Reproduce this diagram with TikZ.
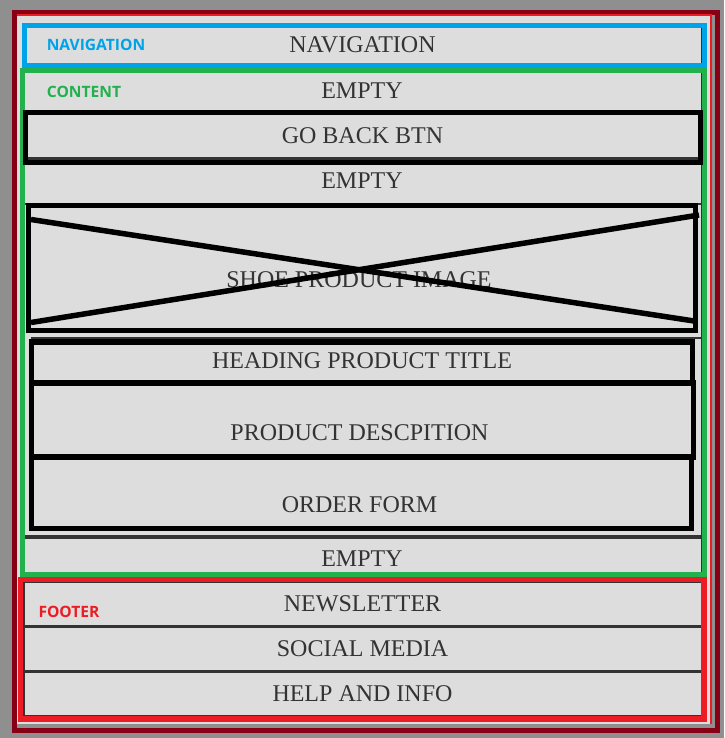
\documentclass[tikz,border=0pt]{standalone}
\usepackage{fontspec}
\setmainfont{Liberation Serif}
\newfontfamily\labfont{Open Sans}
\definecolor{bggray}{HTML}{8F8F8F}
\definecolor{darkred}{HTML}{880015}
\definecolor{myred}{HTML}{ED1C24}
\definecolor{myblue}{HTML}{00A2E8}
\definecolor{mygreen}{HTML}{22B14C}
\definecolor{pagefill}{HTML}{DDDDDD}
\definecolor{rowline}{HTML}{333333}
\definecolor{txtcol}{HTML}{333333}
\begin{document}
\begin{tikzpicture}[x=1pt,y=-1pt,
  box/.style={rectangle, anchor=north west, inner sep=0pt, outer sep=0pt},
  rowbox/.style={box, draw=rowline, line width=1.5pt, fill=pagefill},
  framebox/.style={box, draw=#1, line width=5pt},
  blackbox/.style={box, draw=black, line width=5pt},
  txt/.style={text=txtcol, font=\fontsize{24}{24}\selectfont, inner sep=0pt, anchor=center},
  lbl/.style={text=#1, font=\labfont\bfseries\fontsize{15.6}{15.6}\selectfont, inner sep=0pt, anchor=center},
  sepline/.style={draw=rowline, line width=3.3pt},
  crossline/.style={draw=black, line width=5.5pt}]
\useasboundingbox (0,0) rectangle (724,738);
\fill[bggray] (0,0) rectangle (724,738);
% outer frame and page
\node[box, draw=darkred, line width=5pt, minimum width=703pt, minimum height=718pt] (outer) at (14.5,12.5) {};
\node[box, fill=pagefill, minimum width=694pt, minimum height=709pt] (page) at (17,15) {};
\draw[myred, line width=2pt] (page.north west) -- (page.north east) -- (page.south east);
% rows
\node[rowbox, minimum width=677.5pt, minimum height=40pt] (navrow) at (24,25.5) {};
\node[rowbox, minimum width=677.5pt, minimum height=40pt] (row1) at (24,72) {};
\node[rowbox, minimum width=677.5pt, minimum height=44.5pt] (row2) at (24,159) {};
\node[rowbox, draw=none, minimum width=677.5pt, minimum height=134.5pt] (row3) at (24,203.5) {};
\node[rowbox, draw=none, minimum width=677.5pt, minimum height=199pt] (row4) at (24,338) {};
\node[rowbox, minimum width=677.5pt, minimum height=37pt] (row5) at (24,537) {};
\node[rowbox, minimum width=677.5pt, minimum height=44pt] (news) at (24,582.5) {};
\node[rowbox, minimum width=677.5pt, minimum height=45.2pt] (social) at (24,626.5) {};
\node[rowbox, minimum width=677.5pt, minimum height=44.1pt] (help) at (24,671.7) {};
\draw[rowline, line width=1.5pt] (row3.north east) -- (row4.south east);
\draw[sepline, line width=4pt] (row2.north west) -- (row2.north east);
\draw[sepline, line width=2pt] (row3.north west) -- (row3.north east);
\draw[sepline, line width=1.5pt] ([xshift=7pt]row4.north west) -- (row4.north east);
\draw[sepline, line width=3.5pt] (row5.north west) -- (row5.north east);
\draw[sepline] (news.south west) -- (news.south east);
\draw[sepline] (social.south west) -- (social.south east);
% coloured frames
\node[framebox=myblue, minimum width=680pt, minimum height=40pt] (navframe) at (24.5,25.5) {};
\node[framebox=mygreen, line width=4.8pt, minimum width=682pt, minimum height=504pt] (contentframe) at (22.5,70.5) {};
\node[framebox=myred, line width=5.5pt, minimum width=683.9pt, minimum height=139.5pt] (footerframe) at (20.3,579.7) {};
% black boxes
\node[blackbox, minimum width=675pt, minimum height=50.5pt] (gobtn) at (25.5,112.5) {};
\node[blackbox, line width=4.8pt, minimum width=667pt, minimum height=125pt] (img) at (28.5,205.5) {};
\node[blackbox, line width=5.5pt, minimum width=661pt, minimum height=40.6pt] (heading) at (31.5,342.2) {};
\node[blackbox, line width=5.5pt, minimum width=661.8pt, minimum height=74.2pt] (desc) at (31.5,382.8) {};
\node[blackbox, line width=5.5pt, minimum width=660pt, minimum height=71.5pt] (order) at (31.5,457) {};
% texts
\node[txt] (tnav) at (362.5,45) {NAVIGATION};
\node[txt] (te1) at (362,91) {EMPTY};
\node[txt] (tgo) at (362.5,136) {GO BACK BTN};
\node[txt] (te2) at (362,181) {EMPTY};
\node[txt] (timg) at (359,280) {SHOE PRODUCT IMAGE};
\node[txt] (thead) at (362,361) {HEADING PRODUCT TITLE};
\node[txt] (tdesc) at (359.5,433) {PRODUCT DESCPITION};
\node[txt] (torder) at (359.5,505) {ORDER FORM};
\node[txt] (te3) at (362,559) {EMPTY};
\node[txt] (tnews) at (362.5,604) {NEWSLETTER};
\node[txt] (tsocial) at (362.5,649) {SOCIAL MEDIA};
\node[txt] (thelp) at (362.5,694) {HELP AND INFO};
% image cross
\coordinate (ca1) at (31,219.5);
\coordinate (ca2) at (694,321);
\coordinate (cb1) at (31,322.5);
\coordinate (cb2) at (699,215);
\draw[crossline] (ca1) -- (ca2);
\draw[crossline] (cb1) -- (cb2);
% labels
\node[lbl=myblue] (lnav) at (96,44.5) {NAVIGATION};
\node[lbl=mygreen] (lcontent) at (84,92) {CONTENT};
\node[lbl=myred] (lfooter) at (69,612) {FOOTER};
\end{tikzpicture}
\end{document}
